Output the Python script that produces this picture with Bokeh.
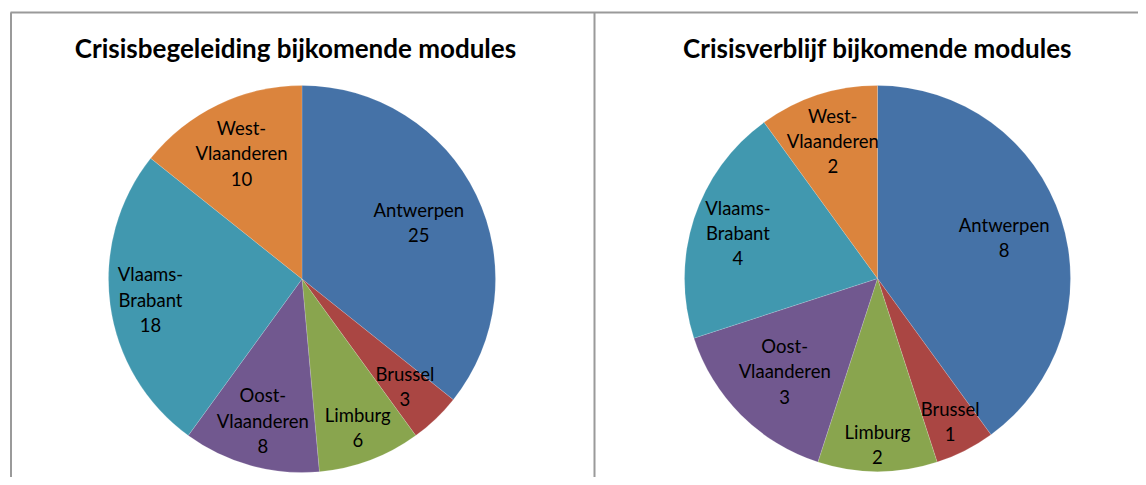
import math
from bokeh.plotting import figure
from bokeh.models import Range1d, ColumnDataSource
from bokeh.core.properties import value
from bokeh.embed import file_html
from bokeh.resources import INLINE

# ---- data ----
regions = ["Antwerpen", "Brussel", "Limburg", "Oost-\nVlaanderen", "Vlaams-\nBrabant", "West-\nVlaanderen"]
begeleiding = [25, 3, 6, 8, 18, 10]
verblijf = [8, 1, 2, 3, 4, 2]
titles = ["Crisisbegeleiding bijkomende modules", "Crisisverblijf bijkomende modules"]

colors = ["#4572A7", "#AA4643", "#89A54E", "#71588F", "#4198AF", "#DB843D"]

# ---- layout (styling) ----
W, H = 1138, 477
label_frac_1 = [0.67, 0.77, 0.82, 0.76, 0.79, 0.72]
label_frac_2 = [0.69, 0.83, 0.86, 0.68, 0.76, 0.75]

p = figure(width=W, height=H, x_range=Range1d(0, W), y_range=Range1d(0, H),
           output_backend="svg", toolbar_location=None, min_border=0)
p.axis.visible = False
p.grid.visible = False
p.outline_line_color = None
p.background_fill_color = "white"
p.border_fill_color = "white"


def Y(img_y):
    return H - img_y


# panel borders
border = "#9a9a9a"
p.segment(x0=[10.5, 10, 594], y0=[Y(12), Y(12), Y(12)],
          x1=[10.5, 1146, 594], y1=[Y(490), Y(12), Y(490)],
          line_color=border, line_width=2)


def draw_pie(vals, cx, cy, r, fracs, title, tx):
    total = float(sum(vals))
    starts, ends, lx, ly, texts = [], [], [], [], []
    cum = 0.0
    for v, f, name in zip(vals, fracs, regions):
        a0 = math.pi / 2 - 2 * math.pi * cum / total
        a1 = math.pi / 2 - 2 * math.pi * (cum + v) / total
        mid = (a0 + a1) / 2
        starts.append(a1)
        ends.append(a0)
        lx.append(cx + f * r * math.cos(mid))
        ly.append(cy + f * r * math.sin(mid))
        texts.append(f"{name}\n{v}")
        cum += v
    src = ColumnDataSource(dict(start=starts, end=ends, color=colors))
    p.wedge(x=cx, y=cy, radius=r, start_angle="start", end_angle="end",
            direction="anticlock", fill_color="color", line_color="white",
            line_width=0.5, line_alpha=0.3, source=src)
    lsrc = ColumnDataSource(dict(x=lx, y=ly, t=texts))
    p.text(x="x", y="y", text="t", source=lsrc, text_align="center",
           text_baseline="middle", text_font=value("Lato"),
           text_font_size="18.5px", text_color="#000000", text_line_height=1.15)
    p.text(x=[tx], y=[Y(47)], text=[title], text_align="center",
           text_baseline="alphabetic", text_font=value("Lato"),
           text_font_style="bold", text_font_size="26px", text_color="#000000")


draw_pie(begeleiding, 301.5, Y(278.5), 193.5, label_frac_1, titles[0], 295)
draw_pie(verblijf, 877, Y(278), 193, label_frac_2, titles[1], 877)

open("out.html", "w").write(file_html(p, INLINE))
